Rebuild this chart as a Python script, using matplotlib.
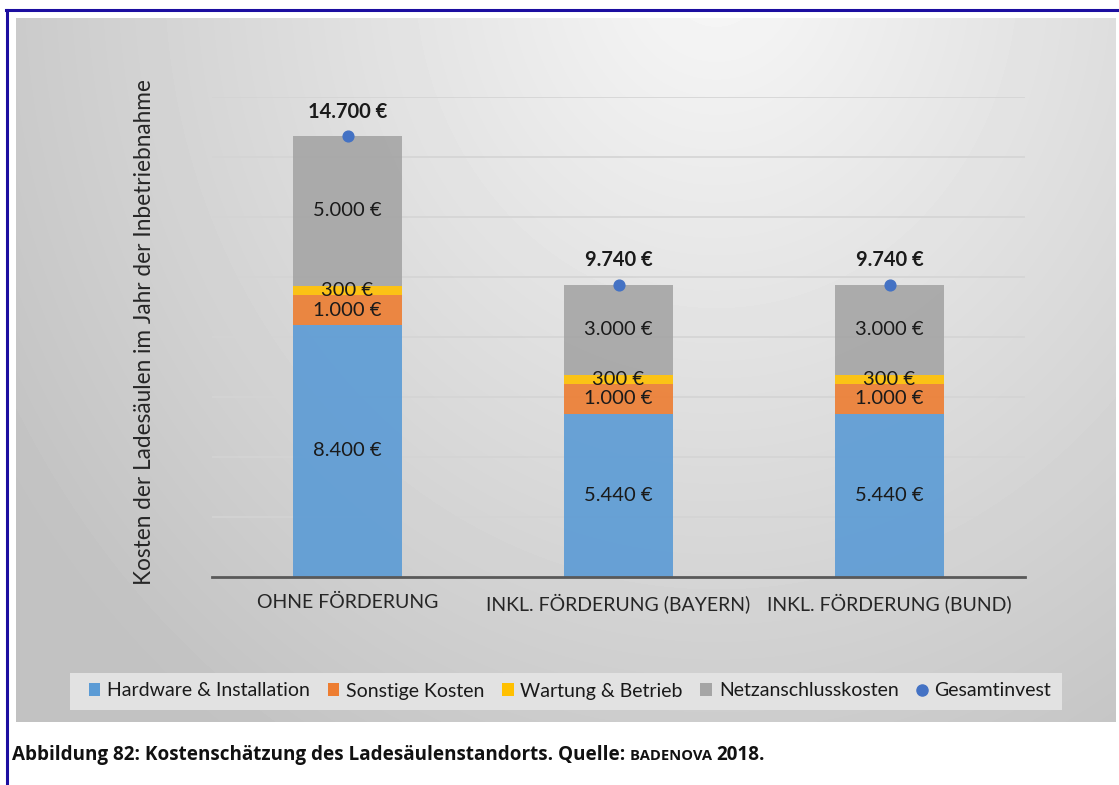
import numpy as np
import matplotlib
matplotlib.use("Agg")
import matplotlib.pyplot as plt
from matplotlib.lines import Line2D
from matplotlib.patches import Patch

plt.rcParams["font.family"] = ["Lato", "DejaVu Sans"]

# Kostenbestandteile je Szenario (EUR)
categories = ["OHNE FÖRDERUNG", "INKL. FÖRDERUNG (BAYERN)", "INKL. FÖRDERUNG (BUND)"]
series_names = ["Hardware & Installation", "Sonstige Kosten", "Wartung & Betrieb", "Netzanschlusskosten"]
hardware = [8400, 5440, 5440]
sonstige = [1000, 1000, 1000]
wartung = [300, 300, 300]
netz = [5000, 3000, 3000]
gesamt = [14700, 9740, 9740]
colors = ["#5b9bd5", "#ed7d31", "#ffc000", "#a5a5a5"]
dot_color = "#4472c4"


def eur(v):
    return f"{v:,.0f} €".replace(",", ".")


W, H = 1119, 785
fig = plt.figure(figsize=(W / 100, H / 100), dpi=100)
fig.patch.set_facecolor("white")

# grauer Hintergrund mit Verlauf (oben Mitte hell)
bg = fig.add_axes([16 / W, 1 - 722 / H, 1100 / W, 704 / H])
yy, xx = np.mgrid[0:704, 0:1100]
r = np.sqrt(((xx - 700) / 800.0) ** 2 + ((yy + 50) / 900.0) ** 2)
shade = np.clip(0.97 - 0.2 * r, 0.76, 0.97)
bg.imshow(shade, cmap="gray", vmin=0, vmax=1, aspect="auto", interpolation="bilinear")
bg.set_axis_off()

# Legendenfeld
fig.patches.append(plt.Rectangle((70 / W, 1 - 710 / H), 992 / W, 37 / H,
                                 transform=fig.transFigure, facecolor="#e2e2e2",
                                 edgecolor="none", zorder=1))

ax = fig.add_axes([212 / W, 1 - 577 / H, 813 / W, 480 / H])
ax.set_facecolor("none")
x = np.arange(len(categories))
bottom = np.zeros(len(categories))
for vals, col in zip([hardware, sonstige, wartung, netz], colors):
    ax.bar(x, vals, width=0.4, bottom=bottom, color=col, alpha=0.9, zorder=2)
    for xi, b, v in zip(x, bottom, vals):
        ax.text(xi, b + v / 2, eur(v), ha="center", va="center", fontsize=14.5,
                color="#1a1a1a", zorder=4)
    bottom += np.array(vals)

ax.scatter(x, gesamt, s=60, color=dot_color, zorder=5)
for xi, v in zip(x, gesamt):
    ax.text(xi, v + 480, eur(v), ha="center", va="bottom", fontsize=14.5,
            fontweight="bold", color="#1a1a1a")

ax.set_xlim(-0.5, 2.5)
ax.set_ylim(0, 16000)
ax.set_yticks(np.arange(2000, 16001, 2000))
ax.yaxis.grid(True, color="#d4d4d4", linewidth=1.2, zorder=0)
ax.set_axisbelow(True)
ax.tick_params(axis="y", left=False, labelleft=False)
ax.tick_params(axis="x", length=0, pad=12, labelsize=14, labelcolor="#262626")
ax.set_xticks(x)
ax.set_xticklabels(categories)
for s in ["top", "right", "left"]:
    ax.spines[s].set_visible(False)
ax.spines["bottom"].set_color("#595959")
ax.spines["bottom"].set_linewidth(2)

fig.text(145 / W, 1 - 332 / H, "Kosten der Ladesäulen im Jahr der Inbetriebnahme",
         rotation=90, ha="center", va="center", fontsize=16.3, color="#262626")

handles = [Patch(facecolor=c, edgecolor="none") for c in colors]
handles.append(Line2D([], [], marker="o", linestyle="none", color=dot_color, markersize=8))
fig.legend(handles, series_names + ["Gesamtinvest"], loc="center",
           bbox_to_anchor=(570 / W, 1 - 691 / H), ncol=5, frameon=False,
           fontsize=14, handlelength=0.6, handleheight=0.6, handletextpad=0.35,
           columnspacing=0.9, labelcolor="#1a1a1a")

# Rahmen und Bildunterschrift
fig.add_artist(Line2D([6 / W, 1.0], [1 - 10 / H, 1 - 10 / H], transform=fig.transFigure,
                      color="#1c0ea0", linewidth=2.2))
fig.add_artist(Line2D([7 / W, 7 / W], [0, 1 - 10 / H], transform=fig.transFigure,
                      color="#1c0ea0", linewidth=2.2))
cap_font = ["Open Sans", "DejaVu Sans"]
cap = fig.text(12 / W, 1 - 755 / H, "Abbildung 82: Kostenschätzung des Ladesäulenstandorts. Quelle: ",
               ha="left", va="center", fontsize=13.6, fontweight="bold",
               family=cap_font, color="#111111")
fig.canvas.draw()
bb = cap.get_window_extent()
src = fig.text(bb.x1 / W, 1 - 756 / H, "BADENOVA ", ha="left", va="center", fontsize=10.6,
               fontweight="bold", family=cap_font, color="#111111")
fig.canvas.draw()
bb2 = src.get_window_extent()
fig.text(bb2.x1 / W, 1 - 755 / H, "2018.", ha="left", va="center", fontsize=13.6,
         fontweight="bold", family=cap_font, color="#111111")

fig.savefig("out.png", dpi=100)
